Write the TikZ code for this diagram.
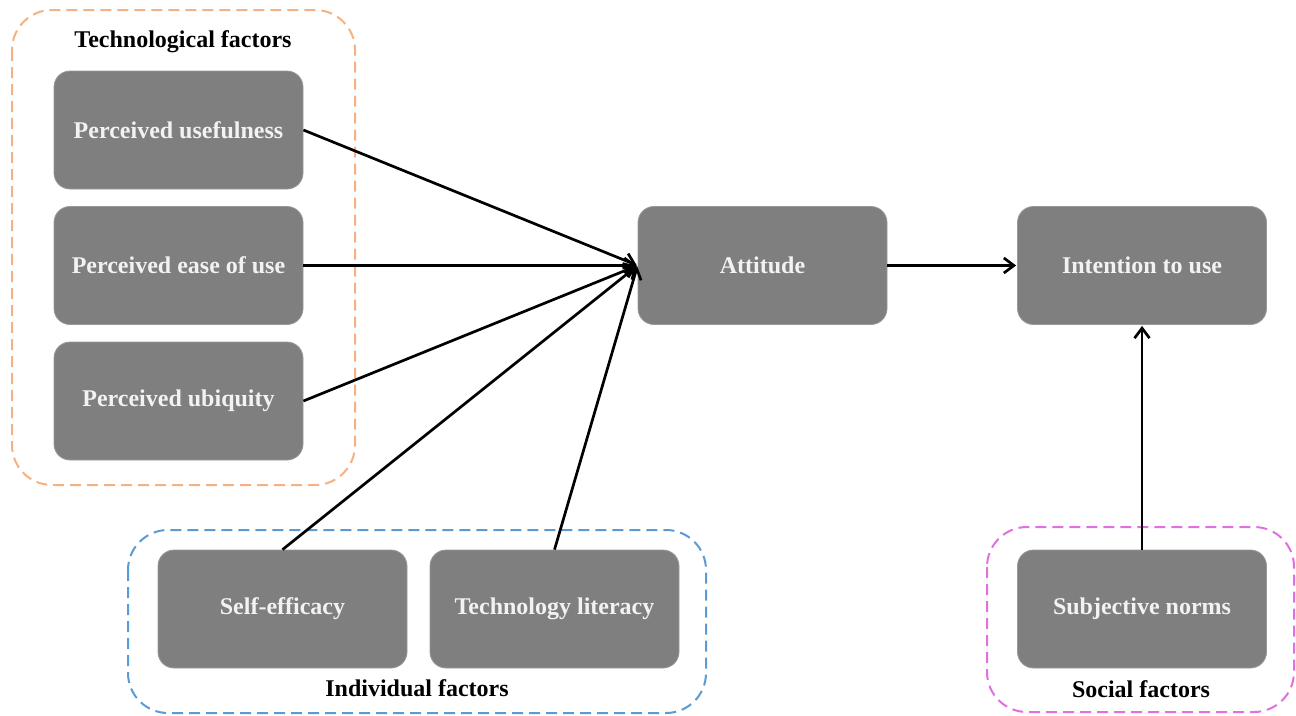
\documentclass[tikz,border=0pt]{standalone}
\usepackage{fontspec}
\setmainfont{Liberation Serif}
\usetikzlibrary{arrows.meta}
\definecolor{boxgray}{HTML}{7F7F7F}
\definecolor{techorange}{HTML}{F4B183}
\definecolor{indblue}{HTML}{5B9BD5}
\definecolor{socpink}{HTML}{E070E0}
\tikzset{
  factorbox/.style={draw=boxgray!80!white, line width=0.8pt, fill=boxgray, rounded corners=16pt,
    minimum width=249pt, minimum height=118pt, inner sep=0pt,
    text=white!95!black, font=\fontsize{24}{28}\selectfont\bfseries},
  groupbox/.style={line width=2pt, dash pattern=on 11pt off 6pt, rounded corners=40pt},
  grouplabel/.style={font=\fontsize{24}{28}\selectfont\bfseries, text=black, inner sep=0pt},
  link/.style={line width=2.7pt, -{Straight Barb[length=10pt,width=15pt,line width=2.7pt]}, shorten >=1pt}
}
\begin{document}
\begin{tikzpicture}[x=1pt,y=-1pt]
\useasboundingbox (0,0) rectangle (1296,715);
% group boxes
\draw[groupbox, techorange] (12,10) rectangle (355,485);
\draw[groupbox, indblue] (128,530) rectangle (706,713);
\draw[groupbox, socpink] (987,527) rectangle (1294,712);
\node[grouplabel] (techlab) at (183,42) {Technological factors};
\node[grouplabel] (indlab) at (417,688) {Individual factors};
\node[grouplabel] (soclab) at (1141,689) {Social factors};
% nodes
\node[factorbox] (pu) at (178.5,130) {Perceived usefulness};
\node[factorbox] (peou) at (178.5,265.5) {Perceived ease of use};
\node[factorbox] (pubq) at (178.5,401) {Perceived ubiquity};
\node[factorbox] (att) at (762.5,265.5) {Attitude};
\node[factorbox] (itu) at (1142,265.5) {Intention to use};
\node[factorbox] (se) at (282.5,609) {Self-efficacy};
\node[factorbox] (tl) at (554.5,609) {Technology literacy};
\node[factorbox] (sn) at (1142,609) {Subjective norms};
% connectors
\draw[link] (pu.east) -- (att.west);
\draw[link] (peou.east) -- (att.west);
\draw[link] (pubq.east) -- (att.west);
\draw[link] (se.north) -- (att.west);
\draw[link] (tl.north) -- (att.west);
\draw[link] (att.east) -- (itu.west);
\draw[link] (sn.north) -- (itu.south);
\end{tikzpicture}
\end{document}
